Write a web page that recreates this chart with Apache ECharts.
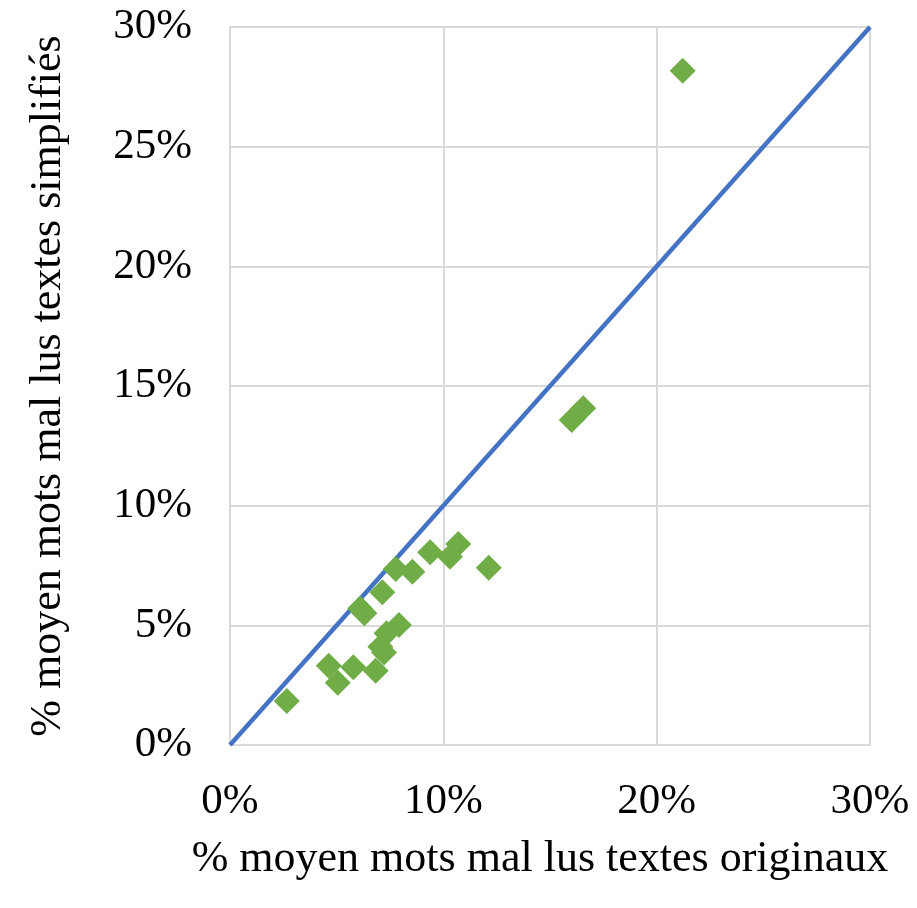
<!DOCTYPE html>
<html>
<head>
<meta charset="utf-8">
<script src="https://cdn.jsdelivr.net/npm/echarts@6/dist/echarts.min.js"></script>
<style>
  html, body { margin: 0; padding: 0; background: #fff; }
  #chart { width: 917px; height: 908px; }
</style>
</head>
<body>
<div id="chart"></div>
<script>
// Mean % of misread words: original texts (x) vs simplified texts (y)
const xOriginal = [2.66, 4.63, 5.05, 5.78, 6.83, 7.22, 7.05, 7.34, 7.92, 6.10, 6.30, 7.14, 7.77, 8.55, 9.38, 10.31, 10.70, 12.13, 16.02, 16.56, 21.22];
const ySimplified = [1.84, 3.31, 2.60, 3.25, 3.10, 3.86, 4.10, 4.67, 5.01, 5.70, 5.50, 6.38, 7.35, 7.24, 8.05, 7.87, 8.40, 7.41, 13.58, 14.07, 28.17];
// Reference line y = x
const identityLine = [[0, 0], [30, 30]];
const axisTicks = [0, 5, 10, 15, 20, 25, 30];

const points = xOriginal.map((x, i) => [x, ySimplified[i]]);
const font = '"Liberation Serif", "DejaVu Serif", serif';

const chart = echarts.init(document.getElementById('chart'));
chart.setOption({
  backgroundColor: '#ffffff',
  animation: false,
  grid: { left: 230, right: 47, top: 27, bottom: 163 },
  xAxis: {
    type: 'value', min: axisTicks[0], max: axisTicks[axisTicks.length - 1], interval: 10,
    name: '% moyen mots mal lus textes originaux',
    nameLocation: 'middle', nameGap: 92,
    nameTextStyle: { fontFamily: font, fontSize: 44, color: '#000', padding: [0, 20, 0, 0] },
    axisLine: { show: true, lineStyle: { color: '#d9d9d9', width: 2 } },
    axisTick: { show: false },
    axisLabel: { formatter: '{value}%', fontFamily: font, fontSize: 43, color: '#000', margin: 35 },
    splitLine: { show: true, lineStyle: { color: '#d9d9d9', width: 2 } }
  },
  yAxis: {
    type: 'value', min: axisTicks[0], max: axisTicks[axisTicks.length - 1], interval: 5,
    name: '% moyen mots mal lus textes simplifiés',
    nameLocation: 'middle', nameGap: 160,
    nameTextStyle: { fontFamily: font, fontSize: 44, color: '#000' },
    axisLine: { show: true, lineStyle: { color: '#d9d9d9', width: 2 } },
    axisTick: { show: false },
    axisLabel: { formatter: '{value}%', fontFamily: font, fontSize: 43, color: '#000', margin: 38 },
    splitLine: { show: true, lineStyle: { color: '#d9d9d9', width: 2 } }
  },
  series: [
    {
      type: 'line',
      data: identityLine,
      symbol: 'none',
      lineStyle: { color: '#4472c4', width: 4.5 },
      z: 2
    },
    {
      type: 'scatter',
      data: points,
      symbol: 'diamond',
      symbolSize: [26, 26],
      itemStyle: { color: '#70ad47', opacity: 1 },
      z: 3
    }
  ]
});
</script>
</body>
</html>
